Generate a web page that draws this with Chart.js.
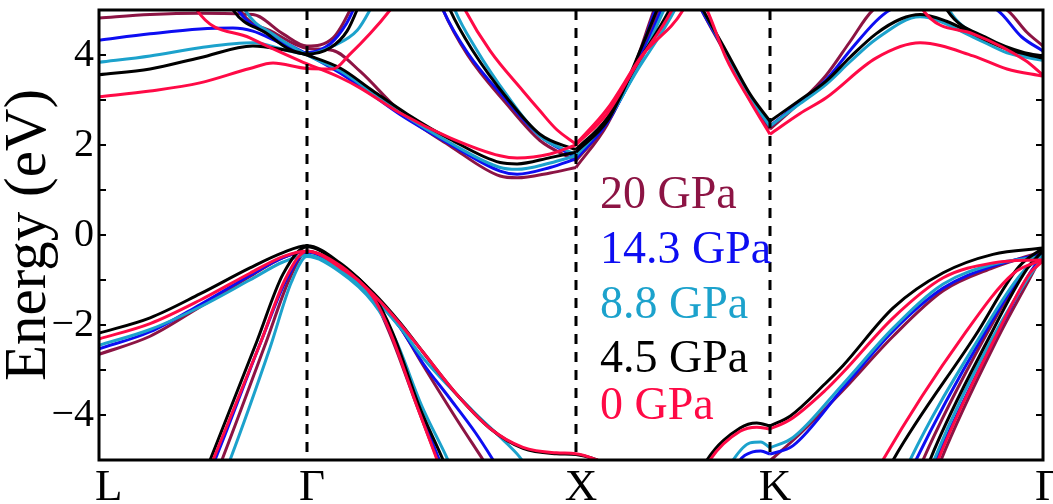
<!DOCTYPE html>
<html>
<head>
<meta charset="utf-8">
<script src="https://cdn.jsdelivr.net/npm/chart.js@4.4.1/dist/chart.umd.min.js"></script>
<style>
  html, body { margin: 0; padding: 0; background: #fff; }
  canvas { display: block; }
</style>
</head>
<body>
<canvas id="c" width="1053" height="504"></canvas>
<script>
// k-path positions (Gamma-X = 1) and their labels
const kTicks  = [0, 0.773, 1.773, 2.494, 3.509];
const kLabels = ['L', 'Γ', 'X', 'K', 'Γ'];

const pressures = ['20 GPa', '14.3 GPa', '8.8 GPa', '4.5 GPa', '0 GPa'];
const colors    = ['#8c1444', '#0d0df2', '#1ca2cc', '#000000', '#ff0a46'];

// bands as [k, E(eV)] ; a third value 1 marks a kink (high-symmetry corner)
const bands20 = [
  [[0,-2.65],[0.190,-2.25],[0.375,-1.6],[0.561,-0.92],[0.684,-0.5],[0.773,-0.36],[0.896,-0.7],[1.019,-1.33],[1.119,-2.05],[1.200,-2.85],[1.330,-4.1],[1.428,-5.0],[1.46,-5.3]],
  [[0.41,-5.7],[0.457,-5.0],[0.620,-2.4],[0.710,-0.95],[0.773,-0.36],[0.896,-0.73],[1.019,-1.4],[1.085,-2.25],[1.185,-3.85],[1.260,-5.0],[1.30,-5.5]],
  [[2.42,-5.35],[2.494,-5.02,1],[2.600,-4.45],[2.766,-3.45],[2.952,-2.25],[3.138,-1.24],[3.323,-0.73],[3.509,-0.36]],
  [[3.03,-5.5],[3.063,-5.0],[3.29,-2.3],[3.44,-0.8],[3.509,-0.36]],
  [[3.10,-5.5],[3.130,-5.0],[3.34,-2.3],[3.47,-0.85],[3.509,-0.4]],
  [[0,4.82],[0.190,4.9],[0.375,4.93],[0.572,4.9],[0.684,4.47],[0.773,4.2],[0.870,4.38],[0.933,5.0],[0.96,5.4]],
  [[0.49,5.5],[0.524,5.0],[0.650,4.5],[0.773,4.15],[0.870,4.1],[0.970,3.64],[1.119,2.75],[1.305,1.98],[1.491,1.31],[1.554,1.27],[1.677,1.38],[1.773,1.5,1],[1.889,2.45],[1.990,3.75],[2.063,5.0],[2.09,5.4]],
  [[1.255,5.4],[1.279,5.0],[1.370,4.0],[1.517,2.9],[1.639,2.1],[1.750,1.72],[1.773,1.65,1],[1.889,2.5],[2.0,3.85],[2.080,5.0],[2.11,5.4]],
  [[2.20,5.5],[2.240,5.0],[2.331,4.0],[2.420,3.0],[2.494,2.35,1],[2.606,2.95],[2.703,3.55],[2.792,4.3],[2.877,5.0],[3.10,5.5],[3.375,5.0],[3.450,4.5],[3.509,4.2]]
];

const bands143 = [
  [[0,-2.53],[0.190,-2.15],[0.375,-1.55],[0.561,-0.9],[0.684,-0.5],[0.773,-0.38],[0.896,-0.72],[1.019,-1.35],[1.119,-2.05],[1.204,-2.85],[1.300,-3.6],[1.400,-4.4],[1.465,-5.0],[1.50,-5.35]],
  [[0.38,-5.7],[0.431,-5.0],[0.600,-2.4],[0.700,-0.95],[0.773,-0.38],[0.896,-0.75],[1.019,-1.42],[1.090,-2.25],[1.190,-3.85],[1.265,-5.0],[1.30,-5.5]],
  [[2.36,-5.3],[2.383,-5.0],[2.430,-4.82],[2.460,-4.8],[2.494,-4.87,1],[2.580,-4.68],[2.766,-3.4],[2.952,-2.13],[3.138,-1.18],[3.323,-0.69],[3.509,-0.42]],
  [[3.0,-5.5],[3.037,-5.0],[3.28,-2.3],[3.44,-0.8],[3.509,-0.42]],
  [[3.08,-5.5],[3.112,-5.0],[3.33,-2.3],[3.46,-0.85],[3.509,-0.45]],
  [[0,4.33],[0.190,4.47],[0.375,4.58],[0.498,4.6],[0.572,4.53],[0.684,4.24],[0.773,4.05],[0.860,4.25],[0.920,4.7],[0.945,5.0],[0.98,5.5]],
  [[0.48,5.5],[0.517,5.0],[0.640,4.45],[0.773,4.02],[0.896,3.6],[1.019,3.1],[1.119,2.68],[1.305,2.02],[1.491,1.42],[1.554,1.35],[1.677,1.5],[1.773,1.69,1],[1.889,2.5],[1.990,3.7],[2.067,5.0],[2.09,5.4]],
  [[1.255,5.4],[1.279,5.0],[1.370,4.05],[1.517,2.98],[1.639,2.2],[1.750,1.8],[1.773,1.72,1],[1.889,2.5],[2.0,3.75],[2.090,5.0],[2.12,5.4]],
  [[2.20,5.5],[2.240,5.0],[2.331,4.05],[2.420,3.05],[2.494,2.42,1],[2.606,2.95],[2.703,3.45],[2.792,4.1],[2.888,4.75],[2.940,5.0],[3.10,5.3],[3.338,5.0],[3.430,4.4],[3.509,4.09]]
];

const bands88 = [
  [[0,-2.45],[0.190,-2.1],[0.375,-1.6],[0.561,-1.0],[0.684,-0.6],[0.773,-0.45],[0.896,-0.78],[1.019,-1.4],[1.119,-2.05],[1.204,-2.73],[1.390,-3.91],[1.517,-4.64],[1.572,-5.0],[1.60,-5.3]],
  [[0.44,-5.7],[0.487,-5.0],[0.636,-2.5],[0.715,-1.05],[0.773,-0.48],[0.896,-0.82],[1.019,-1.5],[1.100,-2.3],[1.200,-3.8],[1.297,-5.0],[1.34,-5.6]],
  [[2.33,-5.3],[2.357,-5.0],[2.420,-4.62],[2.460,-4.6],[2.494,-4.73,1],[2.580,-4.5],[2.766,-3.31],[2.952,-2.07],[3.138,-1.09],[3.323,-0.65],[3.509,-0.47]],
  [[2.98,-5.5],[3.015,-5.0],[3.27,-2.3],[3.43,-0.85],[3.509,-0.47]],
  [[3.075,-5.5],[3.104,-5.0],[3.32,-2.3],[3.46,-0.9],[3.509,-0.5]],
  [[0,3.84],[0.190,3.98],[0.375,4.16],[0.572,4.27],[0.700,4.1],[0.773,4.02],[0.870,4.2],[0.960,4.55],[1.007,5.0],[1.04,5.4]],
  [[0.51,5.5],[0.543,5.0],[0.650,4.45],[0.773,4.0],[0.896,3.65],[1.019,3.15],[1.119,2.73],[1.305,2.05],[1.491,1.5],[1.554,1.46],[1.677,1.6],[1.773,1.76,1],[1.889,2.55],[2.0,3.7],[2.100,5.0],[2.13,5.4]],
  [[1.30,5.4],[1.323,5.0],[1.400,4.15],[1.517,3.1],[1.639,2.2],[1.750,1.85],[1.773,1.8,1],[1.889,2.55],[2.0,3.65],[2.140,5.0],[2.17,5.4]],
  [[2.20,5.5],[2.245,5.0],[2.331,4.05],[2.420,3.05],[2.494,2.42,1],[2.606,2.92],[2.703,3.35],[2.792,3.85],[2.888,4.35],[3.052,4.85],[3.249,4.4],[3.375,4.05],[3.509,3.88]],
  [[3.14,5.3],[3.160,5.0],[3.30,4.35],[3.44,4.0],[3.509,3.9]]
];

const bands45 = [
  [[0,-2.18],[0.190,-1.84],[0.375,-1.31],[0.561,-0.73],[0.684,-0.39],[0.773,-0.24],[0.896,-0.62],[1.019,-1.28],[1.119,-1.95],[1.204,-2.6],[1.331,-3.55],[1.454,-4.3],[1.576,-4.74],[1.70,-4.86],[1.773,-4.88],[1.851,-5.0],[1.95,-5.3]],
  [[0.36,-5.8],[0.413,-5.0],[0.587,-2.36],[0.684,-0.87],[0.773,-0.26],[0.896,-0.66],[1.019,-1.33],[1.090,-2.15],[1.190,-3.8],[1.279,-5.0],[1.32,-5.6]],
  [[2.22,-5.5],[2.260,-5.0],[2.383,-4.29],[2.445,-4.18],[2.494,-4.24,1],[2.570,-4.02],[2.700,-3.3],[2.766,-2.9],[2.952,-1.62],[3.138,-0.84],[3.323,-0.43],[3.509,-0.29]],
  [[2.91,-5.5],[2.952,-5.0],[3.257,-2.24],[3.42,-0.7],[3.509,-0.29]],
  [[3.06,-5.5],[3.089,-5.0],[3.312,-2.24],[3.45,-0.75],[3.509,-0.35]],
  [[0,3.56],[0.190,3.69],[0.375,3.94],[0.572,4.2],[0.700,4.1],[0.773,4.02],[0.860,4.16],[0.922,4.53],[0.959,5.0],[0.99,5.5]],
  [[0.46,5.5],[0.498,5.0],[0.625,4.47],[0.700,4.15],[0.773,4.0],[0.896,3.71],[1.019,3.2],[1.145,2.69],[1.305,2.13],[1.491,1.61],[1.554,1.58],[1.677,1.72],[1.773,1.84,1],[1.889,2.53],[1.948,3.2],[2.011,4.09],[2.074,5.0],[2.10,5.4]],
  [[1.28,5.4],[1.305,5.0],[1.390,4.09],[1.517,3.04],[1.639,2.24],[1.750,1.94],[1.773,1.9,1],[1.889,2.6],[1.99,3.7],[2.12,5.0],[2.15,5.4]],
  [[2.20,5.5],[2.245,5.0],[2.331,4.09],[2.420,3.13],[2.494,2.53,1],[2.606,3.0],[2.703,3.42],[2.792,3.95],[2.888,4.47],[2.980,4.8],[3.052,4.9],[3.150,4.75],[3.249,4.47],[3.375,4.13],[3.509,3.93]],
  [[3.13,5.3],[3.152,5.0],[3.30,4.38],[3.44,4.05],[3.509,3.98]]
];

const bands0 = [
  [[0,-2.31],[0.190,-1.97],[0.375,-1.45],[0.561,-0.85],[0.684,-0.48],[0.773,-0.36],[0.896,-0.68],[1.019,-1.32],[1.119,-1.97],[1.204,-2.6],[1.331,-3.55],[1.454,-4.3],[1.576,-4.72],[1.70,-4.84],[1.773,-4.86],[1.851,-5.0],[1.95,-5.3]],
  [[0.37,-5.8],[0.424,-5.0],[0.600,-2.4],[0.695,-0.95],[0.773,-0.36],[0.896,-0.72],[1.019,-1.38],[1.082,-2.15],[1.182,-3.8],[1.257,-5.0],[1.30,-5.7]],
  [[2.23,-5.5],[2.271,-5.0],[2.383,-4.36],[2.445,-4.27],[2.494,-4.31,1],[2.570,-4.1],[2.700,-3.45],[2.766,-3.05],[2.952,-1.84],[3.138,-0.95],[3.323,-0.62],[3.509,-0.55]],
  [[2.87,-5.5],[2.914,-5.0],[3.212,-2.24],[3.40,-0.85],[3.509,-0.55]],
  [[3.09,-5.5],[3.119,-5.0],[3.33,-2.3],[3.46,-0.85],[3.509,-0.58]],
  [[0,3.07],[0.190,3.2],[0.375,3.38],[0.561,3.7],[0.647,3.82],[0.773,3.7],[0.870,3.69],[0.933,4.02],[1.007,4.47],[1.082,5.0],[1.13,5.4]],
  [[0.33,5.5],[0.364,5.0],[0.561,4.38],[0.747,3.87],[0.896,3.5],[0.970,3.27],[1.119,2.71],[1.305,2.16],[1.491,1.76],[1.554,1.71],[1.677,1.8],[1.773,2.0,1],[1.889,2.7],[2.0,3.8],[2.130,5.0],[2.16,5.4]],
  [[1.33,5.4],[1.361,5.0],[1.454,4.09],[1.576,3.2],[1.639,2.76],[1.700,2.35],[1.773,2.02,1],[1.889,2.8],[2.02,4.0],[2.171,5.0],[2.20,5.4]],
  [[2.21,5.5],[2.260,5.0],[2.331,3.93],[2.420,2.98],[2.494,2.24,1],[2.606,2.7],[2.703,3.05],[2.888,3.93],[3.052,4.27],[3.249,3.98],[3.375,3.69],[3.509,3.53]],
  [[3.04,5.4],[3.063,5.0],[3.249,4.47],[3.445,3.87],[3.509,3.55]]
];

// drawing order: first dataset ends up on top, so 0 GPa goes first
const allBands = [bands20, bands143, bands88, bands45, bands0];
const legendBaselines = [208, 263, 318, 372, 419];

function toPoints(band) {
    const pts = [];
    band.forEach(([x, y, kink]) => {
        pts.push({ x, y });
        // split the curve at a kink so the spline keeps the corner sharp
        if (kink) {
            pts.push({ x, y: null });
            pts.push({ x, y });
        }
    });
    return pts;
}

const datasets = [];
for (let i = allBands.length - 1; i >= 0; i--) {
    allBands[i].forEach(b => {
        datasets.push({
            data: toPoints(b),
            borderColor: colors[i],
            borderWidth: 3,
            pointRadius: 0,
            fill: false,
            cubicInterpolationMode: 'monotone',
            spanGaps: false
        });
    });
}

function fmt(v) {
    if (v % 2 !== 0) return '';
    return v < 0 ? '\u2212' + (-v) : String(v);
}

// ── frame, inward ticks, dashed k-lines, k labels, legend text ──
const decor = {
    id: 'decor',
    afterDatasetsDraw(chart) {
        const { ctx, chartArea: a, scales: { x, y } } = chart;
        ctx.save();
        ctx.strokeStyle = '#000';

        ctx.lineWidth = 3;
        ctx.setLineDash([10, 8]);
        kTicks.slice(1, -1).forEach(k => {
            const px = Math.round(x.getPixelForValue(k));
            ctx.beginPath();
            ctx.moveTo(px, a.top);
            ctx.lineTo(px, a.bottom);
            ctx.stroke();
        });
        ctx.setLineDash([]);

        ctx.lineWidth = 2;
        for (let v = -4; v <= 4; v++) {
            const py = Math.round(y.getPixelForValue(v));
            ctx.beginPath();
            ctx.moveTo(a.left, py); ctx.lineTo(a.left + 7, py);
            ctx.moveTo(a.right, py); ctx.lineTo(a.right - 7, py);
            ctx.stroke();
        }

        ctx.lineWidth = 3;
        ctx.strokeRect(a.left, a.top, a.right - a.left, a.bottom - a.top);

        ctx.fillStyle = '#000';
        ctx.font = '45px "Liberation Serif"';
        ctx.textBaseline = 'alphabetic';
        kLabels.forEach((t, i) => {
            const px = x.getPixelForValue(kTicks[i]);
            if (i === 0) {
                ctx.textAlign = 'left';
                ctx.fillText(t, px - 4, 500);
            } else {
                ctx.textAlign = 'center';
                ctx.fillText(t, px + 5, 500);
            }
        });

        ctx.font = '46px "Liberation Serif"';
        ctx.textAlign = 'left';
        pressures.forEach((p, i) => {
            ctx.fillStyle = colors[i];
            ctx.fillText(p, 600, legendBaselines[i]);
        });
        ctx.restore();
    }
};

Chart.defaults.font.family = '"Liberation Serif", "Times New Roman", serif';
Chart.defaults.color = '#000';

new Chart(document.getElementById('c'), {
    type: 'line',
    data: { datasets },
    options: {
        responsive: false,
        animation: false,
        events: [],
        layout: { padding: { top: 10, right: 10, left: 0, bottom: 0 } },
        plugins: { legend: { display: false }, tooltip: { enabled: false } },
        scales: {
            x: {
                type: 'linear',
                min: 0,
                max: kTicks[kTicks.length - 1],
                ticks: { display: false },
                grid: { display: false },
                border: { display: false },
                afterFit: s => { s.height = 44; s.paddingLeft = 0; s.paddingRight = 0; }
            },
            y: {
                min: -5,
                max: 5,
                ticks: {
                    stepSize: 1,
                    autoSkip: false,
                    padding: 5,
                    font: { size: 40 },
                    color: '#000',
                    callback: v => fmt(v)
                },
                grid: { display: false, drawTicks: false },
                border: { display: false },
                title: {
                    display: true,
                    text: 'Energy (eV)',
                    font: { size: 59, lineHeight: 1.0 },
                    color: '#000',
                    padding: 0
                },
                afterFit: s => { s.width = 99; s.paddingTop = 0; s.paddingBottom = 0; }
            }
        }
    },
    plugins: [decor]
});
</script>
</body>
</html>
